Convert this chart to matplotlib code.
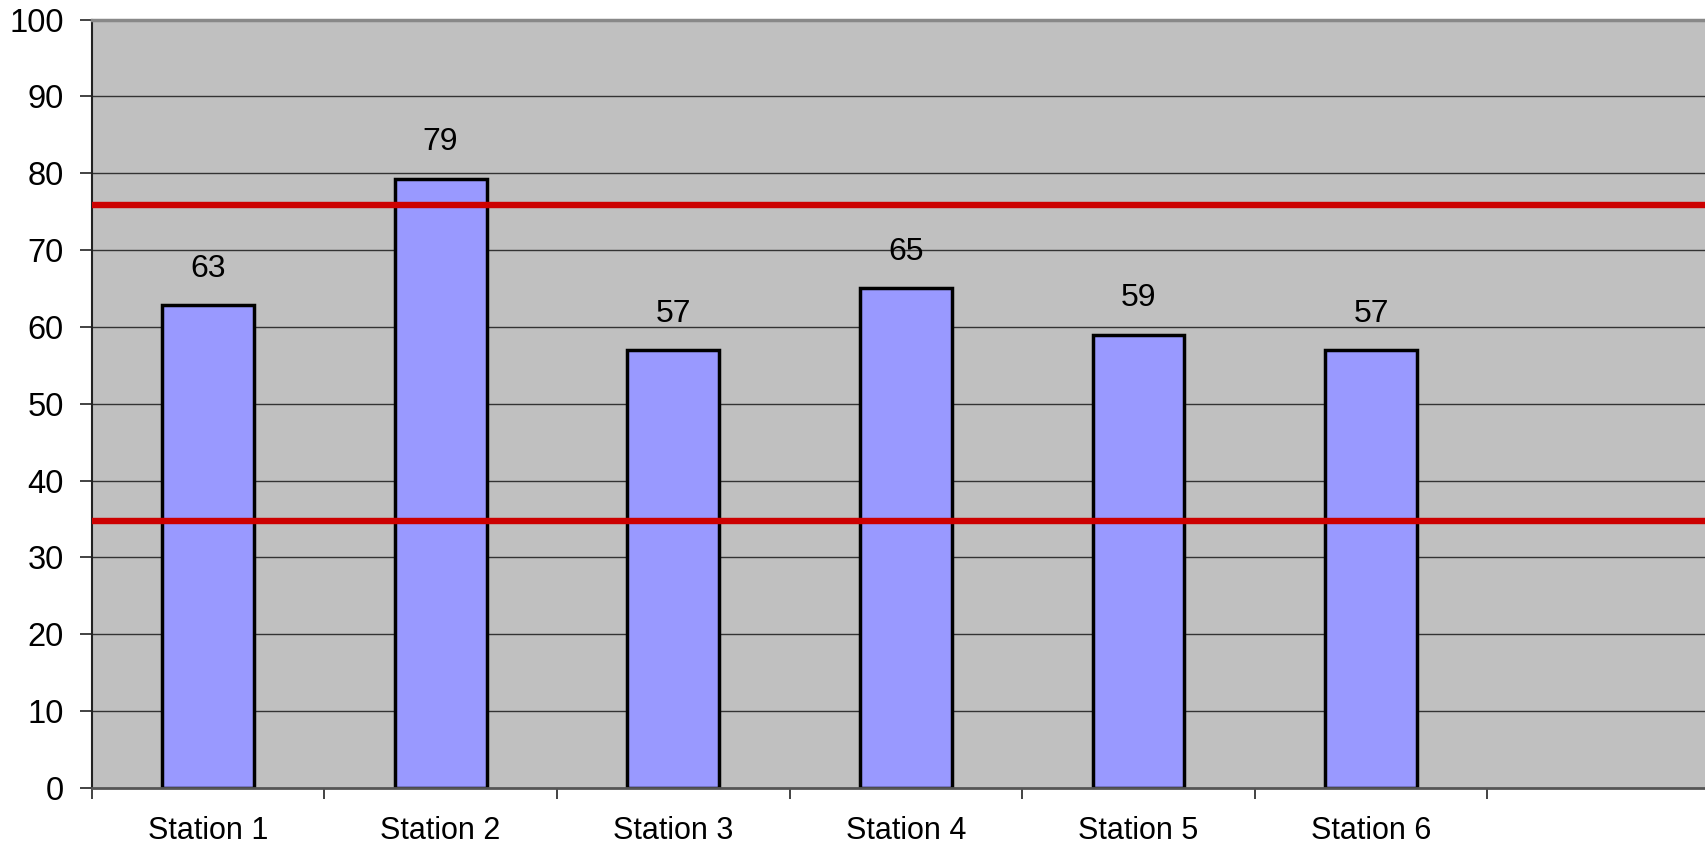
import matplotlib
matplotlib.use("Agg")
import matplotlib.pyplot as plt
import numpy as np

categories = ["Station 1", "Station 2", "Station 3", "Station 4", "Station 5", "Station 6"]
values = [62.8, 79.3, 57.0, 65.0, 59.0, 57.0]
labels = ["63", "79", "57", "65", "59", "57"]
ref_lines = [75.8, 34.8]
yticks = [0, 10, 20, 30, 40, 50, 60, 70, 80, 90, 100]
n_slots = 7

plt.rcParams['font.family'] = ['Liberation Sans', 'DejaVu Sans']
dpi = 100
W, H = 1706, 843
fig = plt.figure(figsize=(W / dpi, H / dpi), dpi=dpi)
left, right, top, bottom = 91.7, 1720, 19.5, 788
ax = fig.add_axes([left / W, (H - bottom) / H, (right - left) / W, (bottom - top) / H])
ax.set_facecolor("#C0C0C0")

x = np.arange(len(categories))
ax.set_xlim(-0.5, n_slots - 0.5)
ax.set_ylim(0, 100)

for yv in yticks[1:-1]:
    ax.axhline(yv, color="#333333", lw=1.0, zorder=1)

bars = ax.bar(x, values, width=0.395, color="#9999FF", edgecolor="black", linewidth=2.5, zorder=2)
for xi, v, lab in zip(x, values, labels):
    ax.annotate(lab, (xi, v), xytext=(0, 26), textcoords="offset points",
                ha="center", va="center", fontsize=23, color="black", zorder=4)

for r in ref_lines:
    ax.axhline(r, color="#CC0000", lw=4.6, zorder=3)

ax.set_yticks(yticks)
ax.set_yticklabels([str(t) for t in yticks], fontsize=23.5)
ax.tick_params(axis="y", direction="out", length=9, width=1.2, pad=11, color="#222222")

ax.set_xticks(x)
ax.set_xticklabels(categories, fontsize=22)
ax.set_xticks(np.arange(n_slots + 1) - 0.5, minor=True)
ax.tick_params(axis="x", which="major", length=0, pad=20)
ax.tick_params(axis="x", which="minor", direction="out", length=8, width=1.2, color="#222222")

ax.spines["top"].set_color("#888888")
ax.spines["top"].set_linewidth(2.5)
ax.spines["left"].set_color("#222222")
ax.spines["left"].set_linewidth(1.5)
ax.spines["bottom"].set_color("#555555")
ax.spines["bottom"].set_linewidth(2.0)
ax.spines["right"].set_visible(False)

fig.savefig("out.png", dpi=dpi)
